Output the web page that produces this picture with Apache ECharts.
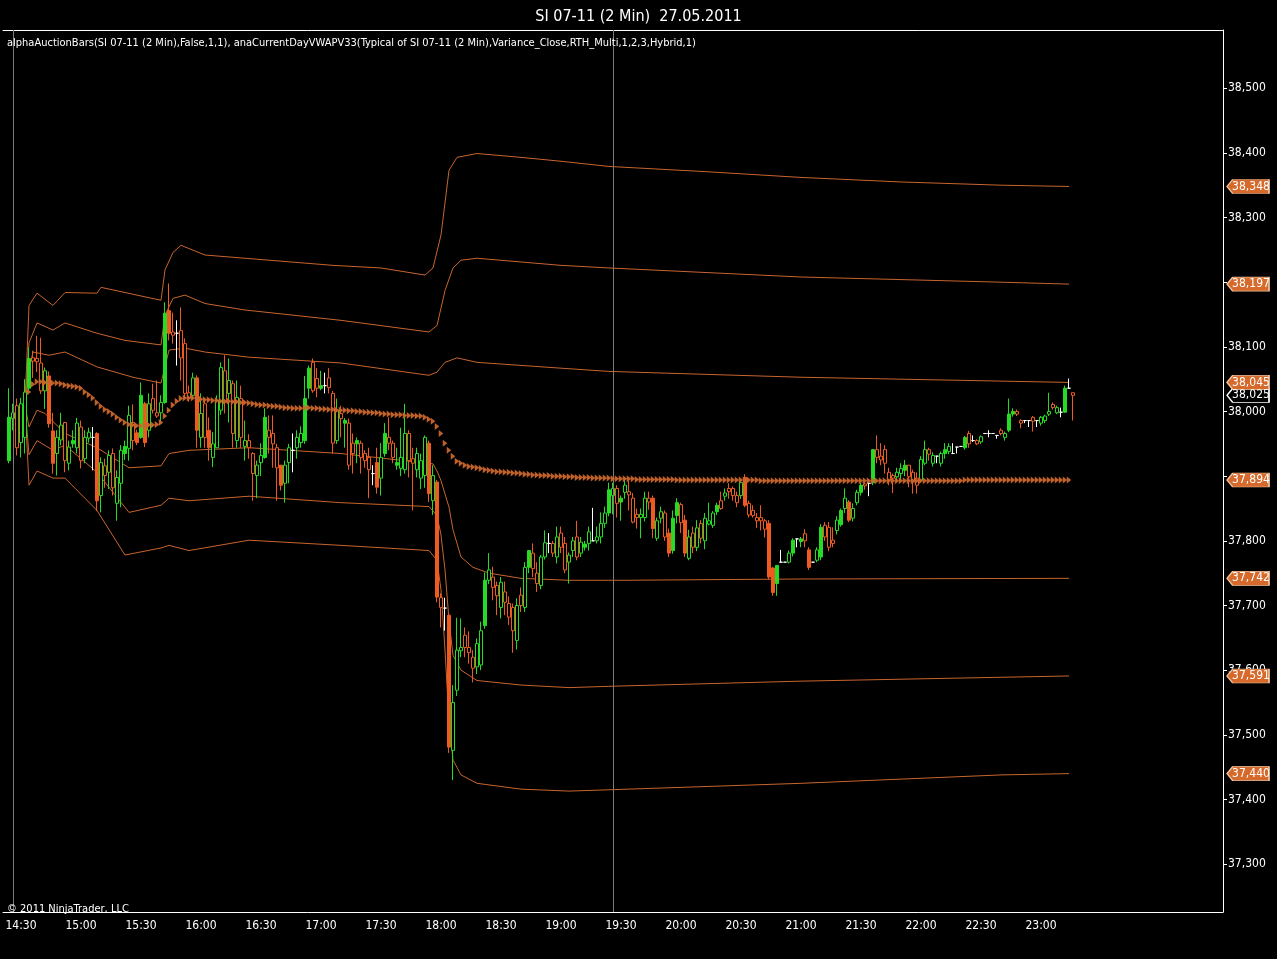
<!DOCTYPE html>
<html>
<head>
<meta charset="utf-8">
<script src="https://cdn.jsdelivr.net/npm/echarts@6/dist/echarts.min.js"></script>
<style>
html,body{margin:0;padding:0;background:#000;}
#chart{width:1277px;height:959px;}
</style>
</head>
<body>
<div id="chart"></div>
<script>
// ---------------- DATA ----------------
const titleText = 'SI 07-11 (2 Min)  27.05.2011';
const indicatorText = 'alphaAuctionBars(SI 07-11 (2 Min),False,1,1), anaCurrentDayVWAPV33(Typical of SI 07-11 (2 Min),Variance_Close,RTH_Multi,1,2,3,Hybrid,1)';
const copyrightText = '\u00a9 2011 NinjaTrader, LLC';

// time axis: 2-minute slots starting 14:22
const firstSlot = [14, 22];
const slotCount = 305;
const xTickLabels = ['14:30','15:00','15:30','16:00','16:30','17:00','17:30','18:00','18:30','19:00','19:30','20:00','20:30','21:00','21:30','22:00','22:30','23:00'];
const yTickValues = [37300,37400,37500,37600,37700,37800,37900,38000,38100,38200,38300,38400,38500];
const sessionBreaks = ['14:26','19:26'];

// OHLC bars [open, close, low, high], first bar at 14:24, one every 2 minutes
const barsStart = '14:24';
const bars = [
[37924,37991,37920,38036],[37989,37998,37971,38012],[38009,37944,37932,38020],[37952,38012,37929,38021],[37960,38030,37935,38050],
[38036,38082,38032,38099],[38083,38078,38052,38094],[38082,38077,38061,38117],[38075,38032,38027,38114],[38032,38063,38004,38068],
[38055,37981,37975,38062],[37970,37920,37904,37998],[37935,37960,37901,37971],[37956,37979,37948,37998],[37983,37924,37906,37984],
[37920,37945,37909,37955],[37950,37955,37944,37971],[37944,37982,37935,37990],[37976,37924,37912,37986],[37927,37960,37920,37971],
[37959,37968,37952,37975],[37960,37960,37909,37976],[37966,37862,37846,37968],[37870,37921,37844,37929],[37916,37901,37882,37927],
[37906,37932,37880,37940],[37935,37882,37870,37943],[37858,37898,37831,37909],[37889,37940,37852,37948],[37935,37946,37925,37955],
[37943,37994,37924,38009],[37983,37955,37940,38011],[37967,37952,37948,37972],[37960,38025,37958,38045],[38012,37952,37945,38015],
[37971,38012,37960,38028],[38020,38002,37997,38043],[37998,37993,37990,38048],[37998,38014,37983,38025],[38014,38152,38012,38169],
[38156,38121,38110,38198],[38123,38118,38105,38153],[38121,38121,38071,38141],[38125,38083,38048,38161],[38105,38028,38020,38113],
[38029,38021,38015,38040],[38025,38052,38020,38060],[38052,37971,37944,38056],[37960,37997,37944,38028],[38012,37960,37944,38020],
[37971,37944,37924,37991],[37929,37950,37914,37968],[37944,38017,37944,38025],[38002,38068,37995,38076],[38063,38014,37997,38087],
[38028,38048,37983,38082],[38043,37966,37944,38048],[37955,38022,37944,38048],[38020,37960,37944,38040],[37946,37955,37924,37986],
[37955,37944,37927,37965],[37935,37904,37862,37937],[37901,37917,37866,37924],[37921,37932,37900,37951],[37929,37991,37927,38005],
[37971,37960,37935,37994],[37966,37950,37913,37994],[37944,37913,37862,37950],[37917,37886,37878,37917],[37889,37917,37859,37924],
[37921,37944,37889,37950],[37940,37940,37906,37966],[37944,37960,37927,37971],[37952,37966,37944,37977],[37955,38020,37950,38055],
[38036,38067,38020,38071],[38076,38032,38029,38082],[38051,38036,38022,38067],[38036,38040,38033,38063],[38040,38040,38028,38060],
[38052,38037,38028,38067],[38028,37951,37935,38032],[37955,38002,37950,38020],[37997,37989,37960,38009],[37982,37986,37944,37990],
[37982,37917,37910,37989],[37951,37935,37904,37966],[37950,37955,37920,37960],[37951,37929,37904,37955],[37935,37924,37913,37940],
[37929,37910,37866,37944],[37904,37904,37886,37917],[37921,37883,37873,37944],[37897,37929,37870,37951],[37935,37966,37930,37982],
[37960,37951,37940,37991],[37951,37929,37920,37955],[37917,37921,37910,37944],[37912,37929,37900,37975],[37910,37966,37904,38012],
[37966,37924,37898,37971],[37927,37920,37847,37944],[37910,37935,37898,37944],[37897,37924,37880,37935],[37901,37960,37882,37963],
[37951,37873,37860,37955],[37862,37901,37840,37917],[37891,37713,37705,37894],[37712,37697,37666,37719],[37696,37696,37661,37712],
[37685,37481,37472,37688],[37476,37550,37430,37577],[37569,37631,37560,37681],[37630,37635,37620,37680],[37654,37635,37620,37666],
[37635,37627,37610,37660],[37620,37603,37581,37631],[37605,37641,37594,37649],[37608,37661,37600,37675],[37669,37739,37664,37751],
[37739,37755,37733,37781],[37744,37728,37708,37760],[37731,37715,37685,37737],[37697,37736,37680,37744],[37721,37705,37685,37737],
[37703,37682,37670,37714],[37697,37661,37627,37703],[37646,37700,37632,37711],[37716,37700,37690,37728],[37697,37759,37690,37767],
[37759,37785,37750,37785],[37781,37757,37744,37796],[37750,37734,37721,37767],[37731,37775,37725,37778],[37775,37797,37771,37816],
[37796,37796,37781,37812],[37796,37781,37775,37800],[37775,37806,37765,37822],[37812,37790,37781,37822],[37796,37755,37750,37806],
[37767,37778,37734,37782],[37785,37800,37775,37806],[37806,37775,37770,37831],[37781,37798,37775,37806],[37790,37795,37785,37800],
[37796,37814,37785,37822],[37800,37800,37800,37851],[37800,37806,37796,37822],[37806,37827,37796,37844],[37827,37843,37820,37853],
[37843,37879,37838,37890],[37870,37881,37841,37890],[37881,37858,37836,37886],[37860,37866,37831,37870],[37875,37886,37865,37897],
[37876,37871,37847,37893],[37866,37829,37827,37874],[37841,37836,37819,37850],[37836,37841,37804,37850],[37836,37866,37830,37876],
[37866,37860,37848,37876],[37866,37819,37804,37870],[37804,37831,37800,37836],[37835,37845,37827,37853],[37843,37806,37800,37847],
[37812,37781,37775,37819],[37785,37835,37780,37847],[37839,37859,37827,37866],[37856,37828,37812,37859],[37832,37781,37775,37840],
[37773,37806,37770,37817],[37812,37790,37781,37822],[37790,37820,37784,37832],[37827,37804,37796,37832],[37800,37835,37787,37843],
[37826,37831,37824,37859],[37824,37843,37820,37846],[37845,37855,37840,37859],[37862,37850,37848,37876],[37869,37874,37862,37881],
[37881,37876,37865,37889],[37881,37870,37862,37884],[37870,37859,37852,37876],[37870,37890,37865,37895],[37898,37855,37852,37903],
[37858,37840,37836,37862],[37847,37839,37836,37855],[37836,37831,37820,37843],[37836,37831,37816,37855],[37831,37818,37805,37834],
[37827,37744,37740,37832],[37758,37720,37715,37760],[37734,37762,37715,37762],[37767,37767,37767,37786],[37767,37767,37767,37767],
[37767,37781,37765,37785],[37781,37801,37776,37804],[37803,37803,37790,37803],[37799,37803,37790,37806],[37811,37800,37790,37818],
[37786,37759,37755,37790],[37767,37767,37767,37767],[37770,37786,37767,37790],[37775,37821,37770,37826],[37824,37806,37800,37829],
[37821,37790,37784,37829],[37801,37796,37790,37821],[37816,37832,37810,37838],[37825,37847,37822,37850],[37850,37866,37843,37881],
[37860,37832,37829,37863],[37835,37850,37830,37858],[37859,37875,37855,37879],[37875,37886,37870,37890],[37888,37885,37879,37890],
[37889,37889,37869,37890],[37890,37941,37886,37941],[37941,37929,37920,37963],[37931,37925,37917,37951],[37941,37920,37904,37948],
[37906,37894,37886,37913],[37901,37897,37874,37904],[37899,37906,37890,37913],[37904,37912,37894,37920],[37909,37917,37900,37925],
[37917,37899,37883,37917],[37906,37891,37873,37910],[37897,37886,37873,37906],[37894,37926,37890,37931],[37920,37941,37917,37955],
[37941,37934,37924,37944],[37920,37932,37915,37937],[37931,37931,37920,37931],[37920,37935,37915,37938],[37935,37941,37927,37951],
[37938,37946,37934,37951],[37935,37935,37935,37951],[37945,37945,37935,37945],[37946,37946,37946,37946],[37944,37960,37941,37962],
[37966,37950,37944,37970],[37955,37955,37953,37963],[37955,37950,37948,37957],[37953,37961,37950,37963],[37966,37966,37966,37966],
[37966,37966,37960,37971],[37966,37966,37966,37966],[37963,37963,37958,37963],[37971,37966,37963,37974],[37960,37966,37955,37969],
[37971,37996,37968,38020],[37996,38000,37992,38005],[38000,37996,37993,38003],[37986,37982,37974,37988],[37986,37986,37982,37986],
[37986,37986,37976,37986],[37991,37985,37969,37993],[37986,37986,37976,37986],[37982,37991,37978,37993],[37986,37993,37982,37995],
[37996,38000,37993,38029],[38011,38006,38003,38014],[37998,38006,37996,38009],[37999,37999,37991,38006],[37999,38036,37998,38040],
[38036,38036,38036,38051],[38029,38025,37986,38029]
];
// body style per bar: F = filled, H = hollow, D = doji
const fills =
 'FHHHHFHHHHFFHHHHFHHHHDFHHHHHHF' +
 'HHFFFHHHHF' + 'FHDHHHHFHH' + 'FHHHHHHHHH' + 'HHHHFHHHFH' + 'HDHHFFHHFD' +
 'HHHHFHHFHH' + 'HDFHFHHFHH' + 'HHHHHFHFHD' + 'FHHHHHHHHF' + 'HHHHHHHHHH' +
 'FHHHHDHHHH' + 'HHHHFHDHHH' + 'FHHFHHHHHH' + 'HFHHHFFFHF' + 'HHHHHHHFHH' +
 'HHHHFHHHHH' + 'FFFDDHFDFH' + 'FDHFHHHHFH' + 'FHHFHDFHHH' + 'HHHHFHHHHH' +
 'HHDHFHDDDF' + 'HDHHDDDDHH' + 'FFHHDDHDHH' + 'HHHDFDH';

// VWAP, one value per bar from 14:34
const vwapStart = '14:34';
const vwap = [
38030,38042,
38046,38046,38045,38045,38044,38044,38043,
38041,38040,38039,38038,38036,
38030,38026,38021,
38014,38008,
38003,38000,37996,
37991,37987,37983,
37980,37979,37978,37978,37978,37979,37979,37980,
37983,37993,38002,38010,38016,
38020,38021,38021,38021,38020,
38019,38018,38018,38017,38017,38016,38016,38016,38015,38015,38014,38014,
38013,38012,38011,38010,38010,38009,38008,38008,38007,38006,38006,38005,
38005,38005,38006,38006,38005,38005,38004,38004,
38003,38003,38002,38002,38002,38001,38001,
38000,38000,37999,37999,37998,37998,37997,
37996,37996,37995,37995,37995,37994,37994,37994,37993,37993,
37991,37988,37985,37977,37966,37951,37940,37931,37923,37920,
37917,37915,37914,37913,37912,
37910,37909,37908,37907,37907,37906,37906,37905,37905,37904,
37903,37903,37902,37902,37901,37901,37901,37900,37900,37900,37899,
37899,37899,37898,37898,37898,37898,37897,37897,37897,37897,37897,37896,37896,37896,37896,
37896,37896,37895,37895,37895,37895,37895,37895,37895,37895,
37895,37895,37894,37894,37894,37894,37894,37894,37894,37894,
37894,37894,37894,37894,37894,37894,37894,37894,37894,37894,
37894,37894,37894,37893,37893,37893,37893,37893,37893,37893,
37893,37893,37893,37893,37893,37893,37893,37893,37893,37893,
37893,37893,37893,37893,37893,37893,37893,37893,37893,37893,
37893,37893,37893,37893,37893,37893,37893,37893,37893,37893,
37893,37893,37893,37893,37893,37893,37893,37893,37893,37893,
37893,37893,37893,37893,37894,37894,37894,37894,37894,37894,
37894,37894,37894,37894,37894,37894,37894,37894,37894,37894,
37894,37894,37894,37894,37894,37894,37894,37894,37894,37894,37894
];

// deviation bands, vertices [time, value]
const bandUp3 = [['14:32',38010],['14:34',38164],['14:38',38183],['14:46',38164],['14:52',38184],['15:08',38183],['15:10',38192],['15:40',38172],['15:42',38219],['15:46',38246],['15:50',38257],['16:02',38242],['16:22',38237],['16:46',38231],['17:06',38226],['17:30',38222],['17:52',38211],['17:56',38222],['18:00',38273],['18:04',38373],['18:08',38393],['18:18',38399],['18:40',38393],['19:00',38387],['19:24',38379],['20:12',38371],['21:00',38362],['21:50',38355],['22:40',38350],['23:14',38348]];
const bandUp2 = [['14:32',38010],['14:34',38106],['14:38',38137],['14:46',38126],['14:52',38137],['15:08',38121],['15:22',38110],['15:40',38103],['15:42',38149],['15:46',38175],['15:52',38180],['16:02',38167],['16:22',38157],['17:10',38141],['17:54',38123],['17:58',38133],['18:02',38187],['18:06',38222],['18:10',38234],['18:18',38237],['19:00',38226],['19:24',38222],['21:00',38208],['22:40',38200],['23:14',38197]];
const bandUp1 = [['14:32',38010],['14:34',38064],['14:36',38092],['14:44',38087],['14:52',38092],['15:08',38069],['15:26',38053],['15:40',38044],['15:44',38095],['15:52',38098],['16:02',38092],['16:24',38084],['17:10',38075],['17:54',38056],['17:58',38061],['18:02',38076],['18:08',38083],['18:18',38076],['19:00',38067],['19:24',38062],['21:00',38053],['22:40',38047],['23:14',38045]];
const bandDn1 = [['14:32',38010],['14:34',37976],['14:38',38002],['14:42',37997],['14:52',37966],['15:08',37944],['15:24',37913],['15:40',37916],['15:44',37935],['15:54',37940],['16:24',37944],['17:10',37935],['17:56',37919],['17:58',37908],['18:00',37893],['18:04',37852],['18:06',37817],['18:10',37775],['18:16',37759],['18:24',37750],['18:40',37742],['19:04',37739],['19:32',37739],['21:00',37741],['23:14',37742]];
const bandDn2 = [['14:32',38010],['14:34',37933],['14:38',37955],['14:46',37940],['14:52',37948],['15:08',37906],['15:24',37844],['15:40',37855],['15:44',37866],['15:54',37862],['16:24',37869],['17:10',37859],['17:54',37853],['17:58',37839],['18:00',37809],['18:02',37755],['18:04',37677],['18:06',37623],['18:10',37600],['18:18',37584],['18:40',37577],['19:04',37573],['19:24',37575],['21:00',37583],['22:40',37589],['23:14',37591]];
const bandDn3 = [['14:32',38010],['14:34',37886],['14:38',37908],['14:46',37897],['14:52',37897],['15:08',37847],['15:22',37778],['15:40',37789],['15:44',37793],['15:54',37785],['16:24',37801],['17:10',37793],['17:54',37785],['17:58',37770],['18:00',37724],['18:02',37631],['18:04',37523],['18:06',37461],['18:10',37438],['18:18',37425],['18:40',37416],['19:04',37413],['19:24',37415],['21:00',37425],['22:40',37438],['23:14',37440]];

// ---------------- BUILD ----------------
const pad = n => (n < 10 ? '0' : '') + n;
const cats = [];
for (let i = 0; i < slotCount; i++) {
  const m = firstSlot[0] * 60 + firstSlot[1] + 2 * i;
  cats.push(pad(Math.floor(m / 60) % 24) + ':' + pad(m % 60));
}
const lastCat = cats[cats.length - 1];
const fmt = v => Number(v).toLocaleString('en-US');

const GREEN = '#25dc25';
const RED = '#ee5a20';
const BAND = '#c8652e';
const FONT = "'Liberation Sans Narrow','Arial Narrow','DejaVu Sans Condensed',sans-serif";

function barStyle(b, f) {
  if (f === 'D' || b[0] === b[1]) {
    return {color: '#fff', color0: '#fff', borderColor: '#fff', borderColor0: '#fff', borderColorDoji: '#fff'};
  }
  const up = b[1] > b[0];
  const c = up ? GREEN : RED;
  const fill = f === 'F' ? c : '#000';
  return {color: fill, color0: fill, borderColor: c, borderColor0: c, borderColorDoji: c};
}
const barsIdx = cats.indexOf(barsStart);
const candleData = cats.map((c, i) => {
  const k = i - barsIdx;
  if (k < 0 || k >= bars.length) return '-';
  return {value: bars[k], itemStyle: barStyle(bars[k], fills[k])};
});
const vwapIdx = cats.indexOf(vwapStart);
const vwapData = vwap.map((v, i) => [cats[vwapIdx + i], v]);
const lastClose = bars[bars.length - 1][1];

// values carrying a price tag on the axis (they cover the tick labels underneath)
const tagValues = [bandUp3, bandUp2, bandUp1, bandDn1, bandDn2, bandDn3].map(b => b[b.length - 1][1])
  .concat([vwap[vwap.length - 1], lastClose]);
const covered = v => tagValues.some(t => Math.abs(t - v) <= 7);

const tagPath = 'path://M0,7 L6,0 L44,0 L44,14 L6,14 Z';
function tag(value, fill, border) {
  return {
    z: 100,
    symbol: tagPath,
    symbolSize: [42, 14],
    symbolKeepAspect: false,
    symbolOffset: [27, 0],
    silent: true,
    itemStyle: {color: fill, borderColor: border, borderWidth: 1},
    label: {show: true, position: 'inside', offset: [3, 0], color: '#fff', fontFamily: FONT, fontSize: 12, formatter: () => fmt(value)},
    data: [{coord: [lastCat, value]}]
  };
}
function bandSeries(name, data) {
  return {
    name, type: 'line', data, showSymbol: false, symbol: 'none', z: 3,
    lineStyle: {color: BAND, width: 1}, silent: true,
    markPoint: tag(data[data.length - 1][1], '#d56a2c', '#f3c29a')
  };
}

const option = {
  backgroundColor: '#000',
  animation: false,
  title: [
    {text: titleText, left: 'center', top: 4, textStyle: {color: '#fff', fontFamily: FONT, fontSize: 16, fontWeight: 'normal'}},
    {text: indicatorText, left: 2, top: 33, textStyle: {color: '#fff', fontFamily: FONT, fontSize: 11, fontWeight: 'normal'}},
    {text: copyrightText, left: 2, top: 899, textStyle: {color: '#fff', fontFamily: FONT, fontSize: 11, fontWeight: 'normal'}}
  ],
  grid: {left: 3, right: 54, top: 30, bottom: 47, containLabel: false},
  xAxis: [{
    type: 'category', data: cats, boundaryGap: true, position: 'bottom',
    axisLine: {lineStyle: {color: '#fff', width: 1}},
    axisTick: {alignWithLabel: true, length: 5, lineStyle: {color: '#fff'}, interval: (i, v) => xTickLabels.includes(v)},
    axisLabel: {color: '#fff', fontFamily: FONT, fontSize: 12, margin: 8, interval: (i, v) => xTickLabels.includes(v)},
    splitLine: {show: false}
  }, {
    type: 'category', data: cats, position: 'top',
    axisLine: {lineStyle: {color: '#fff', width: 1}},
    axisTick: {show: false}, axisLabel: {show: false}, splitLine: {show: false}
  }],
  yAxis: {
    type: 'value', position: 'right', min: 37226, max: 38590, splitNumber: 14, scale: true, z: 0,
    axisLine: {show: true, lineStyle: {color: '#fff', width: 1}},
    axisTick: {show: true, length: 4, inside: false, lineStyle: {color: '#fff'}, customValues: yTickValues},
    axisLabel: {color: '#fff', fontFamily: FONT, fontSize: 12, margin: 5, customValues: yTickValues,
      formatter: v => covered(v) ? '' : fmt(v)},
    splitLine: {show: false}
  },
  series: [
    {
      name: 'bars', type: 'candlestick', data: candleData, barWidth: 3, z: 4,
      itemStyle: {color: GREEN, color0: RED, borderColor: GREEN, borderColor0: RED, borderWidth: 1},
      markLine: {
        silent: true, symbol: ['none', 'none'], label: {show: false},
        lineStyle: {color: '#7b7b7b', width: 1, type: 'solid'},
        data: sessionBreaks.map(t => ({xAxis: t}))
      },
      markPoint: tag(lastClose, '#000', '#fff')
    },
    bandSeries('+3', bandUp3),
    bandSeries('+2', bandUp2),
    bandSeries('+1', bandUp1),
    bandSeries('-1', bandDn1),
    bandSeries('-2', bandDn2),
    bandSeries('-3', bandDn3),
    {
      name: 'VWAP', type: 'line', data: vwapData, z: 5,
      showSymbol: true, showAllSymbol: true, symbol: 'triangle', symbolRotate: -90, symbolSize: [7, 4.5],
      itemStyle: {color: '#c9662d', opacity: 0.95},
      lineStyle: {width: 0, opacity: 0},
      silent: true,
      markPoint: tag(vwap[vwap.length - 1], '#d56a2c', '#f3c29a')
    }
  ]
};

const chart = echarts.init(document.getElementById('chart'), null, {renderer: 'canvas'});
chart.setOption(option);
</script>
</body>
</html>
